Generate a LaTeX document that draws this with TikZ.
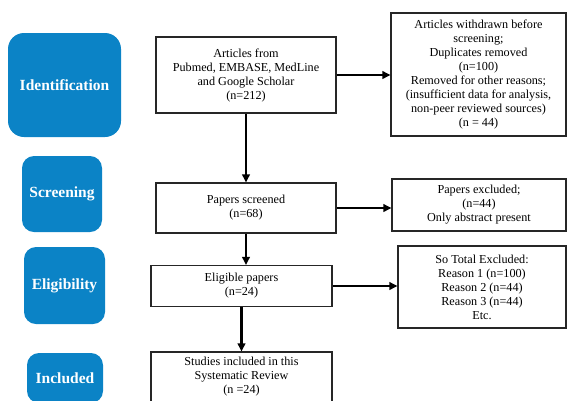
\documentclass[tikz,border=0pt]{standalone}
\usepackage{fontspec}
\setmainfont{Liberation Serif}
\usepackage{tikz}
\usetikzlibrary{arrows.meta}

\definecolor{stageblue}{HTML}{0B83C6}

\begin{document}
\begin{tikzpicture}[x=1pt,y=-1pt,
    stage/.style={fill=stageblue, rounded corners=12pt, text=white,
        font=\fontsize{15.5}{18}\selectfont\bfseries, inner sep=0pt},
    flowbox/.style={draw=black!85, line width=1.1pt, align=center, inner sep=0pt,
        font=\fontsize{12.2}{14}\selectfont},
    flowarrow/.style={line width=2.1pt, -{Triangle[length=8pt,width=7.5pt]}},
]
    \useasboundingbox (0,0) rectangle (567,400);
    \begin{scope}
    \clip (0,0) rectangle (567,400);
    % stages on the left
    \node[stage, minimum width=113pt, minimum height=104pt, rounded corners=16pt] (ident) at (64.5,85) {Identification};
    \node[stage, minimum width=80pt, minimum height=76pt] (screen) at (62,194) {Screening};
    \node[stage, minimum width=81pt, minimum height=77pt] (elig) at (64.5,285.5) {Eligibility};
    \node[stage, minimum width=76pt, minimum height=50pt] (incl) at (65,378) {Included};

    % main flow
    \node[flowbox, minimum width=180pt, minimum height=76pt] (articles) at (246,75)
        {Articles from\\Pubmed, EMBASE, MedLine\\and Google Scholar\\(n=212)};
    \node[flowbox, minimum width=180pt, minimum height=50pt] (screened) at (246,208)
        {Papers screened\\(n=68)};
    \node[flowbox, minimum width=181pt, minimum height=41pt] (eligible) at (241.5,286)
        {Eligible papers\\(n=24)};
    \node[flowbox, minimum width=181pt, minimum height=50pt] (studies) at (241.5,377)
        {Studies included in this\\Systematic Review\\(n =24)};

    % exclusions on the right
    \node[flowbox, minimum width=175pt, minimum height=123pt] (withdrawn) at (478.5,74.5)
        {Articles withdrawn before\\screening;\\Duplicates removed\\(n=100)\\Removed for other reasons;\\(insufficient data for analysis,\\non-peer reviewed sources)\\(n = 44)};
    \node[flowbox, minimum width=174pt, minimum height=52pt] (excluded) at (479,205)
        {Papers excluded;\\(n=44)\\Only abstract present};
    \node[flowbox, minimum width=168pt, minimum height=82pt] (total) at (482,287)
        {So Total Excluded:\\Reason 1 (n=100)\\Reason 2 (n=44)\\Reason 3 (n=44)\\Etc.};

    % arrows
    \draw[flowarrow] (articles.south) -- (screened.north);
    \draw[flowarrow] (screened.south) -- (screened.south |- eligible.north);
    \draw[flowarrow] (eligible.south) -- (studies.north);
    \draw[flowarrow] (articles.east) -- (articles.east -| withdrawn.west);
    \draw[flowarrow] (screened.east) -- (screened.east -| excluded.west);
    \draw[flowarrow] (eligible.east) -- (eligible.east -| total.west);
    \end{scope}
\end{tikzpicture}
\end{document}
